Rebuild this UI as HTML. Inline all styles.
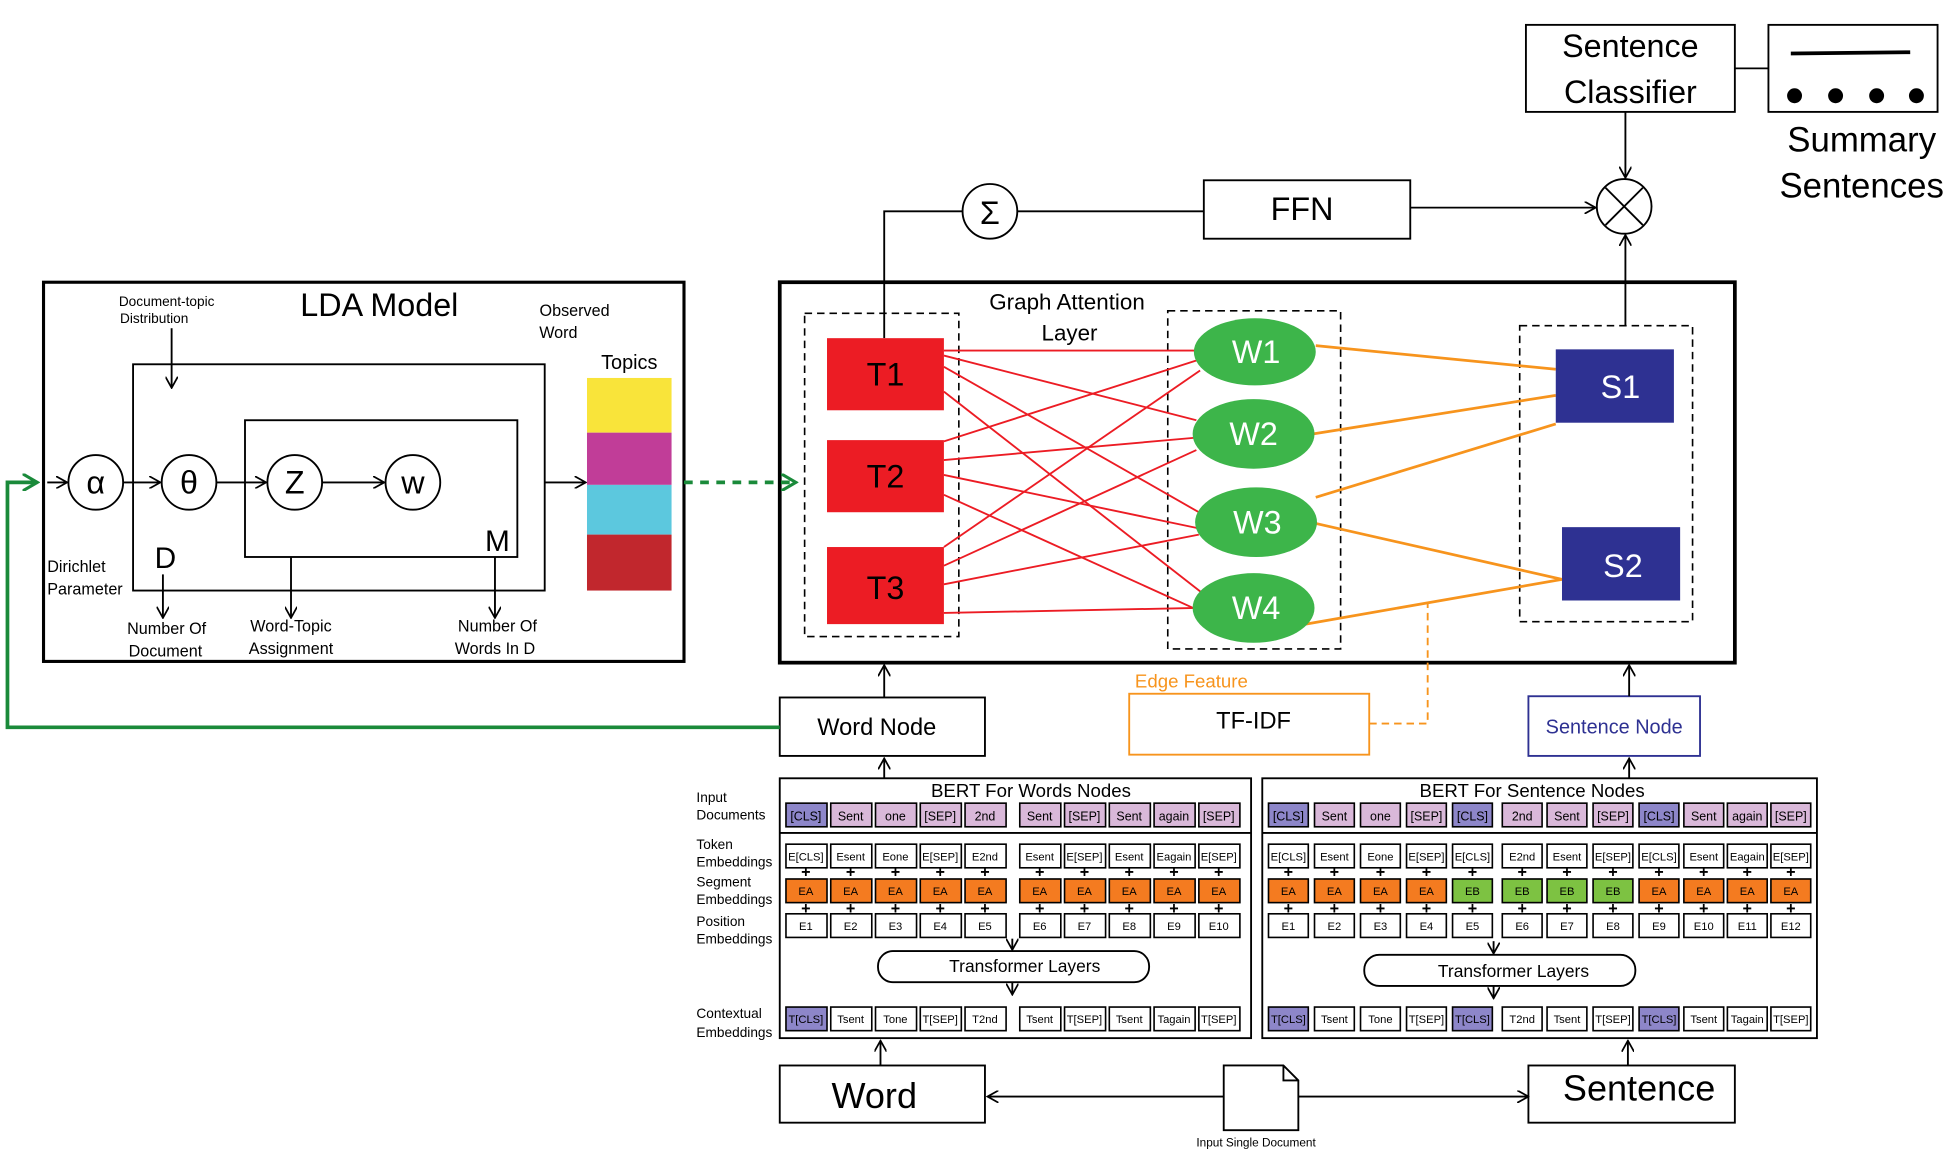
<!DOCTYPE html>
<html><head><meta charset="utf-8"><style>html,body{margin:0;padding:0;background:#fff}svg{display:block}text{font-family:"Liberation Sans",sans-serif}</style></head><body>
<svg width="1950" height="1155" viewBox="0 0 1568 929" preserveAspectRatio="none" xmlns="http://www.w3.org/2000/svg">
<defs>
<marker id="a" markerWidth="10" markerHeight="10" refX="9" refY="5" orient="auto" markerUnits="userSpaceOnUse"><path d="M0,0 L9,5 L0,10" fill="none" stroke="#000" stroke-width="1.4"/></marker>
<marker id="g" markerWidth="14" markerHeight="14" refX="12" refY="7" orient="auto" markerUnits="userSpaceOnUse"><path d="M0,0 L12,7 L0,14" fill="none" stroke="#1a8a3a" stroke-width="2.5"/></marker>
</defs>
<g fill="none" stroke="#000" stroke-width="1.5">
<rect x="35" y="227" width="515" height="305" stroke-width="2.5"/>
<rect x="107" y="293" width="331" height="182"/>
<rect x="197" y="338" width="219" height="110"/>
<circle cx="77" cy="388" r="22"/><circle cx="152" cy="388" r="22"/><circle cx="237" cy="388" r="22"/><circle cx="332" cy="388" r="22"/>
<line x1="138" y1="264" x2="138" y2="312" marker-end="url(#a)"/>
<line x1="38" y1="388" x2="54" y2="388" marker-end="url(#a)"/>
<line x1="99" y1="388" x2="129" y2="388" marker-end="url(#a)"/>
<line x1="174" y1="388" x2="214" y2="388" marker-end="url(#a)"/>
<line x1="259" y1="388" x2="309" y2="388" marker-end="url(#a)"/>
<line x1="438" y1="388" x2="471" y2="388" marker-end="url(#a)"/>
<line x1="131" y1="462" x2="131" y2="497" marker-end="url(#a)"/>
<line x1="234" y1="448" x2="234" y2="497" marker-end="url(#a)"/>
<line x1="398" y1="448" x2="398" y2="497" marker-end="url(#a)"/>
<rect x="627" y="227" width="768" height="306" stroke-width="3"/>
<g stroke-dasharray="6,4" stroke-width="1.3"><rect x="647" y="252" width="124" height="260"/><rect x="939" y="250" width="139" height="272"/><rect x="1222" y="262" width="139" height="238"/></g>
<circle cx="796" cy="170" r="22"/><circle cx="1306" cy="166" r="22"/>
<line x1="1291" y1="151" x2="1321" y2="181"/><line x1="1321" y1="151" x2="1291" y2="181"/>
<polyline points="711,272 711,170 774,170"/>
<line x1="818" y1="170" x2="968" y2="170"/>
<rect x="968" y="145" width="166" height="47"/>
<line x1="1134" y1="167" x2="1283" y2="167" marker-end="url(#a)"/>
<line x1="1307" y1="262" x2="1307" y2="189" marker-end="url(#a)"/>
<rect x="1227" y="20" width="168" height="70"/>
<line x1="1307" y1="90" x2="1307" y2="143" marker-end="url(#a)"/>
<line x1="1395" y1="55" x2="1422" y2="55"/>
<rect x="1422" y="20" width="136" height="70"/>
<line x1="1440" y1="43" x2="1536" y2="42" stroke-width="3"/>
<rect x="627" y="561" width="165" height="47"/>
<line x1="711" y1="561" x2="711" y2="535" marker-end="url(#a)"/>
<rect x="1229" y="560" width="138" height="48" stroke="#2e3192"/>
<line x1="1310" y1="560" x2="1310" y2="535" marker-end="url(#a)"/>
<rect x="908" y="558" width="193" height="49" stroke="#f7941d"/>
<polyline points="1101,582 1148,582 1148,484" stroke="#f7941d" stroke-dasharray="6,4"/>
<line x1="711" y1="626" x2="711" y2="610" marker-end="url(#a)"/>
<line x1="1310" y1="626" x2="1310" y2="610" marker-end="url(#a)"/>
<rect x="627" y="626" width="379" height="209"/><line x1="627" y1="670" x2="1006" y2="670"/>
<rect x="1015" y="626" width="446" height="209"/><line x1="1015" y1="670" x2="1461" y2="670"/>
<rect x="706" y="765" width="218" height="25" rx="12"/>
<rect x="1097" y="768" width="218" height="25" rx="12"/>
<line x1="814" y1="755" x2="814" y2="764" marker-end="url(#a)"/><line x1="814" y1="790" x2="814" y2="800" marker-end="url(#a)"/>
<line x1="1201" y1="757" x2="1201" y2="767" marker-end="url(#a)"/><line x1="1201" y1="793" x2="1201" y2="803" marker-end="url(#a)"/>
<rect x="627" y="857" width="165" height="46"/>
<rect x="1229" y="857" width="166" height="46"/>
<path d="M984,857 L1032,857 L1044,869 L1044,909 L984,909 Z M1032,857 L1032,869 L1044,869"/>
<line x1="984" y1="882" x2="794" y2="882" marker-end="url(#a)"/>
<line x1="1044" y1="882" x2="1229" y2="882" marker-end="url(#a)"/>
<line x1="708" y1="857" x2="708" y2="837" marker-end="url(#a)"/>
<line x1="1309" y1="857" x2="1309" y2="837" marker-end="url(#a)"/>
</g>
<g fill="#000"><circle cx="1443" cy="77" r="6"/><circle cx="1476" cy="77" r="6"/><circle cx="1509" cy="77" r="6"/><circle cx="1541" cy="77" r="6"/></g>
<rect x="472" y="304" width="68" height="44" fill="#f9e43a"/><rect x="472" y="348" width="68" height="42" fill="#c13d98"/><rect x="472" y="390" width="68" height="40" fill="#5cc8de"/><rect x="472" y="430" width="68" height="45" fill="#c1272d"/>
<line x1="550" y1="388" x2="640" y2="388" stroke="#1a8a3a" stroke-width="3" stroke-dasharray="7,6" marker-end="url(#g)"/>
<polyline points="627,585 6,585 6,388 30,388" fill="none" stroke="#1a8a3a" stroke-width="3" marker-end="url(#g)"/>
<g stroke="#ec1c24" stroke-width="1.5">
<line x1="759" y1="282" x2="962" y2="282"/><line x1="759" y1="286" x2="962" y2="338"/><line x1="759" y1="295" x2="964" y2="412"/><line x1="759" y1="315" x2="968" y2="478"/>
<line x1="759" y1="355" x2="962" y2="290"/><line x1="759" y1="370" x2="962" y2="352"/><line x1="759" y1="382" x2="964" y2="425"/><line x1="759" y1="398" x2="966" y2="492"/>
<line x1="759" y1="440" x2="965" y2="298"/><line x1="759" y1="455" x2="962" y2="362"/><line x1="759" y1="470" x2="964" y2="430"/><line x1="759" y1="493" x2="962" y2="489"/>
</g>
<g stroke="#f7941d" stroke-width="2.2">
<line x1="1058" y1="278" x2="1251" y2="297"/><line x1="1056" y1="349" x2="1251" y2="318"/><line x1="1058" y1="400" x2="1251" y2="341"/><line x1="1058" y1="421" x2="1256" y2="466"/><line x1="1050" y1="502" x2="1256" y2="466"/>
</g>
<rect x="665" y="272" width="94" height="58" fill="#ec1c24"/><rect x="665" y="354" width="94" height="58" fill="#ec1c24"/><rect x="665" y="440" width="94" height="62" fill="#ec1c24"/>
<g fill="#3db54a"><ellipse cx="1009" cy="283" rx="49" ry="27"/><ellipse cx="1008" cy="349" rx="49" ry="28"/><ellipse cx="1010" cy="420" rx="49" ry="28"/><ellipse cx="1008" cy="489" rx="49" ry="28"/></g>
<rect x="1251" y="281" width="95" height="59" fill="#2e3192"/><rect x="1256" y="424" width="95" height="59" fill="#2e3192"/>
<g font-size="26" text-anchor="middle">
<text x="712" y="310">T1</text><text x="712" y="392">T2</text><text x="712" y="482">T3</text>
<g fill="#fff"><text x="1010" y="292">W1</text><text x="1008" y="358">W2</text><text x="1011" y="429">W3</text><text x="1010" y="498">W4</text><text x="1303" y="320">S1</text><text x="1305" y="464">S2</text></g>
<text x="77" y="397">α</text><text x="152" y="397">θ</text><text x="237" y="397">Z</text><text x="332" y="397">w</text>
<text x="796" y="180">Σ</text><text x="1047" y="177">FFN</text>
<text x="1311" y="46">Sentence</text><text x="1311" y="83">Classifier</text>
<text x="1497" y="122" font-size="28">Summary</text><text x="1497" y="159" font-size="28">Sentences</text>
<text x="305" y="254">LDA Model</text>
<text x="133" y="457" font-size="24">D</text><text x="400" y="443" font-size="24">M</text>
<text x="703" y="891" font-size="29">Word</text><text x="1318" y="885" font-size="29">Sentence</text>
</g>
<g font-size="13" text-anchor="middle">
<text x="134" y="246" font-size="11">Document-topic</text><text x="124" y="260" font-size="11">Distribution</text>
<text x="462" y="254">Observed</text><text x="449" y="272">Word</text><text x="506" y="297" font-size="16">Topics</text>
<text x="134" y="510">Number Of</text><text x="133" y="528">Document</text>
<text x="234" y="508">Word-Topic</text><text x="234" y="526">Assignment</text>
<text x="400" y="508">Number Of</text><text x="398" y="526">Words In D</text>
<text x="858" y="249" font-size="18">Graph Attention</text><text x="860" y="274" font-size="18">Layer</text>
<text x="958" y="553" font-size="15" fill="#f7941d">Edge Feature</text>
<text x="1008" y="586" font-size="19">TF-IDF</text>
<text x="705" y="591" font-size="19">Word Node</text>
<text x="1298" y="590" font-size="16" fill="#2e3192">Sentence Node</text>
<text x="1010" y="922" font-size="9.5">Input Single Document</text>
<text x="829" y="641" font-size="15">BERT For Words Nodes</text><text x="1232" y="641" font-size="15">BERT For Sentence Nodes</text>
<text x="824" y="782" font-size="14">Transformer Layers</text><text x="1217" y="786" font-size="14">Transformer Layers</text>
</g>
<text x="38" y="460" font-size="13">Dirichlet</text>
<text x="38" y="478" font-size="13">Parameter</text>
<g font-size="11">
<text x="560" y="645">Input</text><text x="560" y="659">Documents</text>
<text x="560" y="683">Token</text><text x="560" y="697">Embeddings</text>
<text x="560" y="713">Segment</text><text x="560" y="727">Embeddings</text>
<text x="560" y="745">Position</text><text x="560" y="759">Embeddings</text>
<text x="560" y="819">Contextual</text><text x="560" y="834">Embeddings</text>
</g>
<g stroke="#000" stroke-width="1.3" font-size="10.5" text-anchor="middle">
<g fill="#d9b8d9"><rect x="632" y="646" width="33" height="19" fill="#8d86c9"/><rect x="668" y="646" width="33" height="19"/><rect x="704" y="646" width="33" height="19"/><rect x="740" y="646" width="33" height="19"/><rect x="776" y="646" width="33" height="19"/><rect x="820" y="646" width="33" height="19"/><rect x="856" y="646" width="33" height="19"/><rect x="892" y="646" width="33" height="19"/><rect x="928" y="646" width="33" height="19"/><rect x="964" y="646" width="33" height="19"/></g>
<g fill="#fff"><rect x="632" y="679" width="33" height="19"/><rect x="668" y="679" width="33" height="19"/><rect x="704" y="679" width="33" height="19"/><rect x="740" y="679" width="33" height="19"/><rect x="776" y="679" width="33" height="19"/><rect x="820" y="679" width="33" height="19"/><rect x="856" y="679" width="33" height="19"/><rect x="892" y="679" width="33" height="19"/><rect x="928" y="679" width="33" height="19"/><rect x="964" y="679" width="33" height="19"/>
<rect x="632" y="735" width="33" height="19"/><rect x="668" y="735" width="33" height="19"/><rect x="704" y="735" width="33" height="19"/><rect x="740" y="735" width="33" height="19"/><rect x="776" y="735" width="33" height="19"/><rect x="820" y="735" width="33" height="19"/><rect x="856" y="735" width="33" height="19"/><rect x="892" y="735" width="33" height="19"/><rect x="928" y="735" width="33" height="19"/><rect x="964" y="735" width="33" height="19"/>
<rect x="632" y="810" width="33" height="19" fill="#8d86c9"/><rect x="668" y="810" width="33" height="19"/><rect x="704" y="810" width="33" height="19"/><rect x="740" y="810" width="33" height="19"/><rect x="776" y="810" width="33" height="19"/><rect x="820" y="810" width="33" height="19"/><rect x="856" y="810" width="33" height="19"/><rect x="892" y="810" width="33" height="19"/><rect x="928" y="810" width="33" height="19"/><rect x="964" y="810" width="33" height="19"/></g>
<g fill="#f47b20"><rect x="632" y="707" width="33" height="19"/><rect x="668" y="707" width="33" height="19"/><rect x="704" y="707" width="33" height="19"/><rect x="740" y="707" width="33" height="19"/><rect x="776" y="707" width="33" height="19"/><rect x="820" y="707" width="33" height="19"/><rect x="856" y="707" width="33" height="19"/><rect x="892" y="707" width="33" height="19"/><rect x="928" y="707" width="33" height="19"/><rect x="964" y="707" width="33" height="19"/></g>
<g fill="#d9b8d9"><rect x="1020" y="646" width="32" height="19" fill="#8d86c9"/><rect x="1057" y="646" width="32" height="19"/><rect x="1094" y="646" width="32" height="19"/><rect x="1131" y="646" width="32" height="19"/><rect x="1168" y="646" width="32" height="19" fill="#8d86c9"/><rect x="1208" y="646" width="32" height="19"/><rect x="1244" y="646" width="32" height="19"/><rect x="1281" y="646" width="32" height="19"/><rect x="1318" y="646" width="32" height="19" fill="#8d86c9"/><rect x="1354" y="646" width="32" height="19"/><rect x="1389" y="646" width="32" height="19"/><rect x="1424" y="646" width="32" height="19"/></g>
<g fill="#fff"><rect x="1020" y="679" width="32" height="19"/><rect x="1057" y="679" width="32" height="19"/><rect x="1094" y="679" width="32" height="19"/><rect x="1131" y="679" width="32" height="19"/><rect x="1168" y="679" width="32" height="19"/><rect x="1208" y="679" width="32" height="19"/><rect x="1244" y="679" width="32" height="19"/><rect x="1281" y="679" width="32" height="19"/><rect x="1318" y="679" width="32" height="19"/><rect x="1354" y="679" width="32" height="19"/><rect x="1389" y="679" width="32" height="19"/><rect x="1424" y="679" width="32" height="19"/>
<rect x="1020" y="735" width="32" height="19"/><rect x="1057" y="735" width="32" height="19"/><rect x="1094" y="735" width="32" height="19"/><rect x="1131" y="735" width="32" height="19"/><rect x="1168" y="735" width="32" height="19"/><rect x="1208" y="735" width="32" height="19"/><rect x="1244" y="735" width="32" height="19"/><rect x="1281" y="735" width="32" height="19"/><rect x="1318" y="735" width="32" height="19"/><rect x="1354" y="735" width="32" height="19"/><rect x="1389" y="735" width="32" height="19"/><rect x="1424" y="735" width="32" height="19"/>
<rect x="1020" y="810" width="32" height="19" fill="#8d86c9"/><rect x="1057" y="810" width="32" height="19"/><rect x="1094" y="810" width="32" height="19"/><rect x="1131" y="810" width="32" height="19"/><rect x="1168" y="810" width="32" height="19" fill="#8d86c9"/><rect x="1208" y="810" width="32" height="19"/><rect x="1244" y="810" width="32" height="19"/><rect x="1281" y="810" width="32" height="19"/><rect x="1318" y="810" width="32" height="19" fill="#8d86c9"/><rect x="1354" y="810" width="32" height="19"/><rect x="1389" y="810" width="32" height="19"/><rect x="1424" y="810" width="32" height="19"/></g>
<g fill="#f47b20"><rect x="1020" y="707" width="32" height="19"/><rect x="1057" y="707" width="32" height="19"/><rect x="1094" y="707" width="32" height="19"/><rect x="1131" y="707" width="32" height="19"/><rect x="1168" y="707" width="32" height="19" fill="#7dc242"/><rect x="1208" y="707" width="32" height="19" fill="#7dc242"/><rect x="1244" y="707" width="32" height="19" fill="#7dc242"/><rect x="1281" y="707" width="32" height="19" fill="#7dc242"/><rect x="1318" y="707" width="32" height="19"/><rect x="1354" y="707" width="32" height="19"/><rect x="1389" y="707" width="32" height="19"/><rect x="1424" y="707" width="32" height="19"/></g>
</g>
<g font-size="10" text-anchor="middle">
<text x="648" y="660">[CLS]</text><text x="684" y="660">Sent</text><text x="720" y="660">one</text><text x="756" y="660">[SEP]</text><text x="792" y="660">2nd</text><text x="836" y="660">Sent</text><text x="872" y="660">[SEP]</text><text x="908" y="660">Sent</text><text x="944" y="660">again</text><text x="980" y="660">[SEP]</text>
<text x="1036" y="660">[CLS]</text><text x="1073" y="660">Sent</text><text x="1110" y="660">one</text><text x="1147" y="660">[SEP]</text><text x="1184" y="660">[CLS]</text><text x="1224" y="660">2nd</text><text x="1260" y="660">Sent</text><text x="1297" y="660">[SEP]</text><text x="1334" y="660">[CLS]</text><text x="1370" y="660">Sent</text><text x="1405" y="660">again</text><text x="1440" y="660">[SEP]</text>
</g>
<g font-size="9" text-anchor="middle">
<text x="648" y="692">E[CLS]</text><text x="684" y="692">Esent</text><text x="720" y="692">Eone</text><text x="756" y="692">E[SEP]</text><text x="792" y="692">E2nd</text><text x="836" y="692">Esent</text><text x="872" y="692">E[SEP]</text><text x="908" y="692">Esent</text><text x="944" y="692">Eagain</text><text x="980" y="692">E[SEP]</text>
<text x="648" y="720">EA</text><text x="684" y="720">EA</text><text x="720" y="720">EA</text><text x="756" y="720">EA</text><text x="792" y="720">EA</text><text x="836" y="720">EA</text><text x="872" y="720">EA</text><text x="908" y="720">EA</text><text x="944" y="720">EA</text><text x="980" y="720">EA</text>
<text x="648" y="748">E1</text><text x="684" y="748">E2</text><text x="720" y="748">E3</text><text x="756" y="748">E4</text><text x="792" y="748">E5</text><text x="836" y="748">E6</text><text x="872" y="748">E7</text><text x="908" y="748">E8</text><text x="944" y="748">E9</text><text x="980" y="748">E10</text>
<text x="648" y="823">T[CLS]</text><text x="684" y="823">Tsent</text><text x="720" y="823">Tone</text><text x="756" y="823">T[SEP]</text><text x="792" y="823">T2nd</text><text x="836" y="823">Tsent</text><text x="872" y="823">T[SEP]</text><text x="908" y="823">Tsent</text><text x="944" y="823">Tagain</text><text x="980" y="823">T[SEP]</text>
<text x="1036" y="692">E[CLS]</text><text x="1073" y="692">Esent</text><text x="1110" y="692">Eone</text><text x="1147" y="692">E[SEP]</text><text x="1184" y="692">E[CLS]</text><text x="1224" y="692">E2nd</text><text x="1260" y="692">Esent</text><text x="1297" y="692">E[SEP]</text><text x="1334" y="692">E[CLS]</text><text x="1370" y="692">Esent</text><text x="1405" y="692">Eagain</text><text x="1440" y="692">E[SEP]</text>
<text x="1036" y="720">EA</text><text x="1073" y="720">EA</text><text x="1110" y="720">EA</text><text x="1147" y="720">EA</text><text x="1184" y="720">EB</text><text x="1224" y="720">EB</text><text x="1260" y="720">EB</text><text x="1297" y="720">EB</text><text x="1334" y="720">EA</text><text x="1370" y="720">EA</text><text x="1405" y="720">EA</text><text x="1440" y="720">EA</text>
<text x="1036" y="748">E1</text><text x="1073" y="748">E2</text><text x="1110" y="748">E3</text><text x="1147" y="748">E4</text><text x="1184" y="748">E5</text><text x="1224" y="748">E6</text><text x="1260" y="748">E7</text><text x="1297" y="748">E8</text><text x="1334" y="748">E9</text><text x="1370" y="748">E10</text><text x="1405" y="748">E11</text><text x="1440" y="748">E12</text>
<text x="1036" y="823">T[CLS]</text><text x="1073" y="823">Tsent</text><text x="1110" y="823">Tone</text><text x="1147" y="823">T[SEP]</text><text x="1184" y="823">T[CLS]</text><text x="1224" y="823">T2nd</text><text x="1260" y="823">Tsent</text><text x="1297" y="823">T[SEP]</text><text x="1334" y="823">T[CLS]</text><text x="1370" y="823">Tsent</text><text x="1405" y="823">Tagain</text><text x="1440" y="823">T[SEP]</text>
</g>
<g font-size="13" font-weight="bold" text-anchor="middle">
<text x="648" y="706">+</text><text x="684" y="706">+</text><text x="720" y="706">+</text><text x="756" y="706">+</text><text x="792" y="706">+</text><text x="836" y="706">+</text><text x="872" y="706">+</text><text x="908" y="706">+</text><text x="944" y="706">+</text><text x="980" y="706">+</text>
<text x="648" y="735">+</text><text x="684" y="735">+</text><text x="720" y="735">+</text><text x="756" y="735">+</text><text x="792" y="735">+</text><text x="836" y="735">+</text><text x="872" y="735">+</text><text x="908" y="735">+</text><text x="944" y="735">+</text><text x="980" y="735">+</text>
<text x="1036" y="706">+</text><text x="1073" y="706">+</text><text x="1110" y="706">+</text><text x="1147" y="706">+</text><text x="1184" y="706">+</text><text x="1224" y="706">+</text><text x="1260" y="706">+</text><text x="1297" y="706">+</text><text x="1334" y="706">+</text><text x="1370" y="706">+</text><text x="1405" y="706">+</text><text x="1440" y="706">+</text>
<text x="1036" y="735">+</text><text x="1073" y="735">+</text><text x="1110" y="735">+</text><text x="1147" y="735">+</text><text x="1184" y="735">+</text><text x="1224" y="735">+</text><text x="1260" y="735">+</text><text x="1297" y="735">+</text><text x="1334" y="735">+</text><text x="1370" y="735">+</text><text x="1405" y="735">+</text><text x="1440" y="735">+</text>
</g>
</svg>
</body></html>
